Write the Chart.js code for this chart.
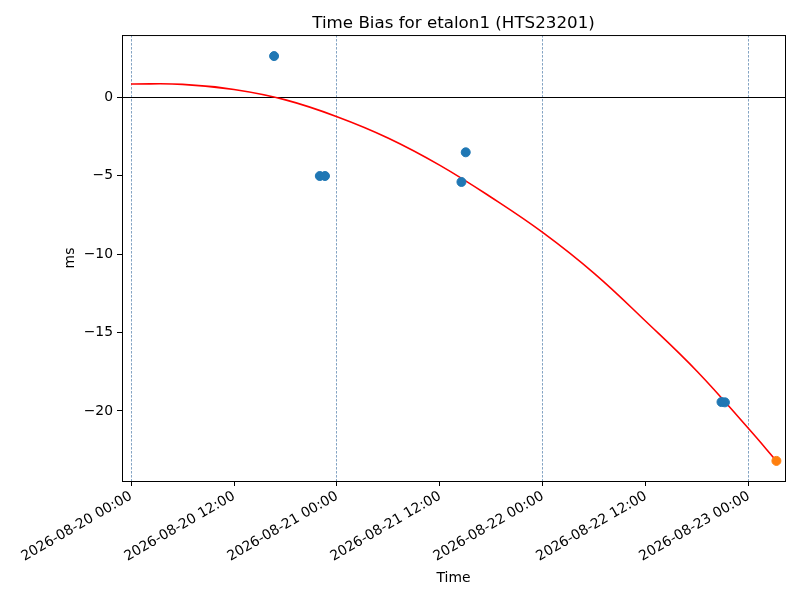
<!DOCTYPE html>
<html>
<head>
<meta charset="utf-8">
<script src="https://cdn.jsdelivr.net/npm/chart.js@4/dist/chart.umd.min.js"></script>
<style>
    html, body { margin: 0; padding: 0; background: #fff; }
    #wrap { width: 800px; height: 600px; }
</style>
</head>
<body>
<div id="wrap"><canvas id="chart" width="800" height="600"></canvas></div>
<script>
/**
 * Time bias scatter with fitted curve, hours counted from 2026-08-20 00:00
 */

const measHours = [16.67, 22.0, 22.6, 38.5, 39.0, 68.8, 69.2]
const measBias = [2.61, -5.03, -5.03, -5.41, -3.52, -19.43, -19.45]

const predHours = [75.2]
const predBias = [-23.18]

const fitHours = [0, 6, 12, 18, 24, 30, 36, 42, 48, 54, 60, 66, 72, 75.2]
const fitBias = [0.83, 0.81, 0.48, -0.18, -1.25, -2.62, -4.35, -6.4, -8.64, -11.25, -14.3, -17.5, -21.15, -23.18]

const tickLabels = [
    "2026-08-20 00:00", "2026-08-20 12:00",
    "2026-08-21 00:00", "2026-08-21 12:00",
    "2026-08-22 00:00", "2026-08-22 12:00",
    "2026-08-23 00:00",
]

const font = "'DejaVu Sans', sans-serif"

function toPoints(xs, ys) {
    return xs.map((x, i) => ({x: x, y: ys[i]}))
}

// draw the full axes frame like matplotlib
const framePlugin = {
    id: "frame",
    beforeDatasetsDraw(chart) {
        const {ctx, chartArea: a} = chart
        ctx.save()
        ctx.strokeStyle = "#000"
        ctx.lineWidth = 1
        ctx.strokeRect(a.left + 0.5, a.top + 0.5, a.right - a.left, a.bottom - a.top)
        ctx.restore()
    }
}

new Chart(document.getElementById("chart"), {
    type: "scatter",
    data: {
        datasets: [{
            label: "measured",
            data: toPoints(measHours, measBias),
            backgroundColor: "#1f77b4",
            borderColor: "#1f77b4",
            pointRadius: 4.5,
            order: 1,
        }, {
            label: "predicted",
            data: toPoints(predHours, predBias),
            backgroundColor: "#ff7f0e",
            borderColor: "#ff7f0e",
            pointRadius: 4.5,
            order: 0,
        }, {
            label: "fit",
            type: "line",
            data: toPoints(fitHours, fitBias),
            borderColor: "#ff0000",
            borderWidth: 1.6,
            pointRadius: 0,
            tension: 0.4,
            fill: false,
            order: 2,
        }]
    },
    options: {
        responsive: false,
        animation: false,
        layout: {padding: {left: 62, right: 15, top: 0, bottom: 12}},
        plugins: {
            legend: {display: false},
            tooltip: {enabled: false},
            title: {
                display: true,
                fullSize: false,
                text: "Time Bias for etalon1 (HTS23201)",
                color: "#000",
                font: {family: font, size: 16.7, weight: "normal"},
                padding: {top: 14, bottom: 1},
            },
        },
        scales: {
            x: {
                type: "linear",
                min: -1.05,
                max: 76.2,
                afterFit: (scale) => { scale.height = 107 },
                border: {display: true, color: "#000", width: 1, dash: [2.5, 1.5]},
                grid: {
                    color: (ctx) => (ctx.tick && ctx.tick.value % 24 === 0) ? "rgba(60,110,160,0.8)" : "transparent",
                    lineWidth: 0.8,
                    tickBorderDash: [],
                    tickColor: "#000",
                    tickLength: 5,
                    tickWidth: 1,
                },
                ticks: {
                    stepSize: 12,
                    includeBounds: false,
                    autoSkip: false,
                    minRotation: 30,
                    maxRotation: 30,
                    color: "#000",
                    font: {family: font, size: 13.9},
                    padding: 2,
                    callback: (value) => tickLabels[Math.round(value / 12)] || "",
                },
                title: {
                    display: true,
                    text: "Time",
                    color: "#000",
                    font: {family: font, size: 13.9},
                    padding: {top: 2, bottom: 1},
                },
            },
            y: {
                min: -24.46,
                max: 3.95,
                afterFit: (scale) => { scale.width = 60 },
                border: {display: true, color: "#000", width: 1},
                grid: {
                    color: (ctx) => (ctx.tick && ctx.tick.value === 0) ? "#000" : "transparent",
                    lineWidth: 1,
                    tickColor: "#000",
                    tickLength: 5,
                    tickWidth: 1,
                },
                ticks: {
                    stepSize: 5,
                    includeBounds: false,
                    color: "#000",
                    font: {family: font, size: 13.9},
                    padding: 4,
                    callback: (value) => String(value).replace("-", "\u2212"),
                },
                title: {
                    display: true,
                    text: "ms",
                    color: "#000",
                    font: {family: font, size: 13.9},
                    padding: {top: 0, bottom: 4},
                },
            },
        },
    },
    plugins: [framePlugin],
})
</script>
</body>
</html>
